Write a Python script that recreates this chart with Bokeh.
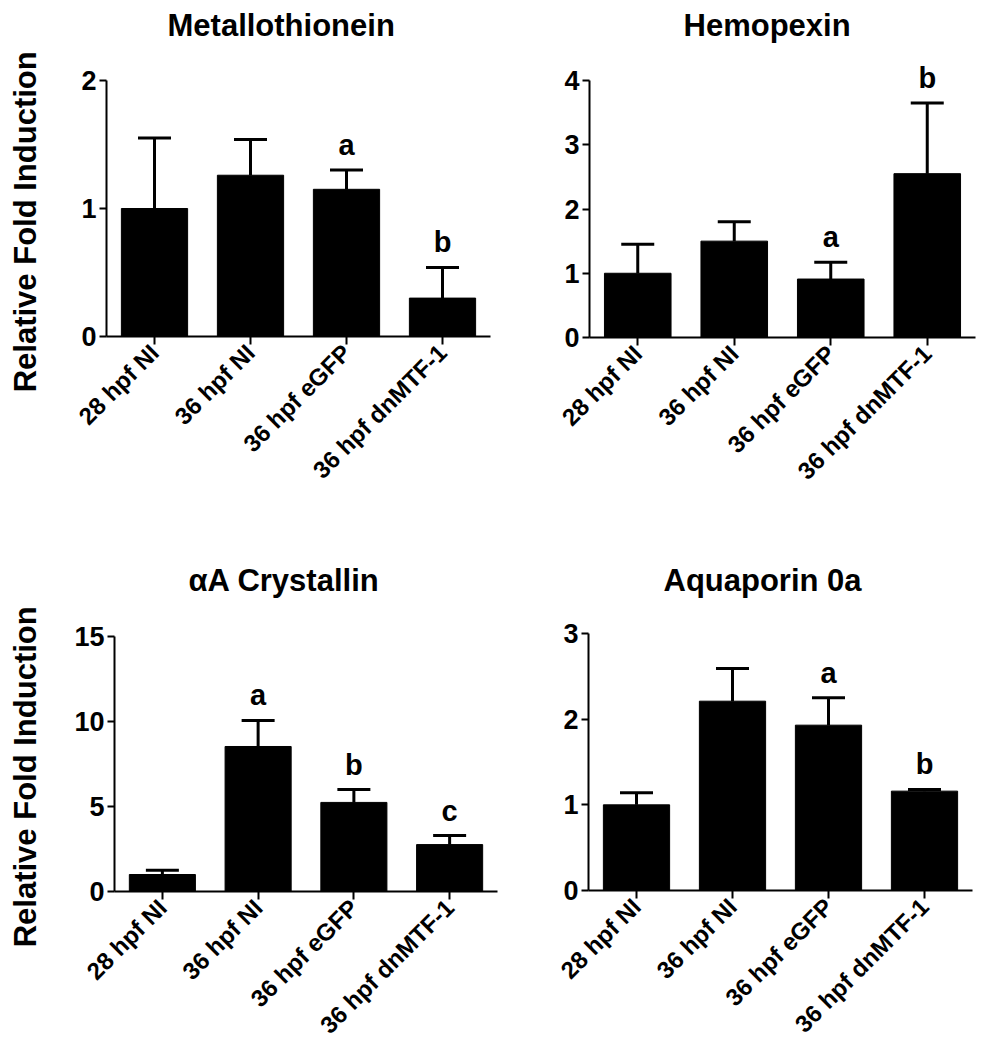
from bokeh.plotting import figure
from bokeh.models import Range1d, FactorRange, FixedTicker, Whisker, TeeHead, LabelSet, ColumnDataSource
from bokeh.core.properties import value
from bokeh.layouts import column, row
from bokeh.embed import file_html
from bokeh.resources import INLINE
import math

categories = ["28 hpf NI", "36 hpf NI", "36 hpf eGFP", "36 hpf dnMTF-1"]

mt_title = "Metallothionein"
mt_mean = [1.0, 1.26, 1.15, 0.30]
mt_err = [0.55, 0.28, 0.15, 0.24]
mt_letters = ["", "", "a", "b"]
mt_ticks = [0, 1, 2]

hpx_title = "Hemopexin"
hpx_mean = [1.0, 1.50, 0.91, 2.55]
hpx_err = [0.45, 0.30, 0.26, 1.10]
hpx_letters = ["", "", "a", "b"]
hpx_ticks = [0, 1, 2, 3, 4]

cry_title = "\u03b1A Crystallin"
cry_mean = [1.0, 8.53, 5.24, 2.76]
cry_err = [0.25, 1.53, 0.76, 0.53]
cry_letters = ["", "a", "b", "c"]
cry_ticks = [0, 5, 10, 15]

aqp_title = "Aquaporin 0a"
aqp_mean = [1.0, 2.21, 1.93, 1.16]
aqp_err = [0.14, 0.38, 0.32, 0.02]
aqp_letters = ["", "", "a", "b"]
aqp_ticks = [0, 1, 2, 3]

FONT = "Liberation Sans"
YLABEL = "Relative  Fold Induction"
LAB_W = 52


def make_panel(title, mean, err, letters, ticks, geom):
    # geom: left border, frame width, right border, figure top, figure height,
    #       frame top, pixel of zero (frame bottom), pixel of axis top, title offset
    ml, fw, mr, fig_top, fig_h, f_top, zero_px, top_px, toff = geom
    ymax = ticks[-1]
    per_px = ymax / (zero_px - top_px)
    y_end = (zero_px - f_top) * per_px
    mt = f_top - fig_top
    fh = zero_px - f_top
    mb = fig_h - mt - fh
    p = figure(x_range=FactorRange(factors=categories, range_padding=0),
               y_range=Range1d(0, y_end),
               frame_width=fw, frame_height=fh,
               min_border_left=ml, min_border_top=mt,
               min_border_right=mr, min_border_bottom=mb,
               output_backend="svg", toolbar_location=None)
    p.title.text = title
    p.title.align = "left"
    p.title.offset = toff
    p.title.text_font = FONT
    p.title.text_font_size = "31px"
    p.title.text_font_style = "bold"
    p.title.text_color = "black"
    p.title.standoff = 0
    p.outline_line_color = None
    p.xgrid.grid_line_color = None
    p.ygrid.grid_line_color = None
    p.background_fill_color = "white"

    top = [m + e for m, e in zip(mean, err)]
    src = ColumnDataSource(dict(x=categories, mean=mean, top=top, letter=letters))
    p.vbar(x="x", top="mean", width=0.69, source=src, fill_color="black", line_color="black")
    p.add_layout(Whisker(base="x", lower="mean", upper="top", source=src,
                         line_width=3, line_color="black",
                         upper_head=TeeHead(size=33, line_width=3, line_color="black"),
                         lower_head=None))
    p.add_layout(LabelSet(x="x", y="top", text="letter", source=src,
                          text_align="center", text_baseline="bottom", y_offset=9,
                          text_font=value(FONT), text_font_size=value("29px"),
                          text_font_style="bold", text_color="black"))

    for ax in (p.xaxis[0], p.yaxis[0]):
        ax.axis_line_width = 2
        ax.axis_line_color = "black"
        ax.major_tick_line_width = 2
        ax.major_tick_line_color = "black"
        ax.major_tick_in = 0
        ax.minor_tick_line_color = None
        ax.major_label_text_font = FONT
        ax.major_label_text_font_style = "bold"
        ax.major_label_text_color = "black"
    p.yaxis.bounds = (0, ymax)
    p.yaxis.ticker = FixedTicker(ticks=ticks)
    p.yaxis.major_tick_out = 7
    p.yaxis.major_label_standoff = 3
    p.yaxis.major_label_text_font_size = "27px"
    p.xaxis.major_tick_out = 8
    p.xaxis.major_label_standoff = 4
    p.xaxis.major_label_text_font_size = "24px"
    p.xaxis.major_label_orientation = math.pi / 4
    return p


def make_ylabel(fig_h, center_from_top, span=350):
    # a narrow figure that only carries the shared y-axis title
    f_top = center_from_top - span // 2
    q = figure(x_range=Range1d(0, 1), y_range=Range1d(0, 1),
               frame_width=LAB_W - 42, frame_height=span,
               min_border_left=42, min_border_right=0,
               min_border_top=f_top, min_border_bottom=fig_h - f_top - span,
               x_axis_location=None, y_axis_location="left",
               output_backend="svg", toolbar_location=None)
    q.outline_line_color = None
    q.xgrid.grid_line_color = None
    q.ygrid.grid_line_color = None
    ax = q.yaxis[0]
    ax.ticker = FixedTicker(ticks=[])
    ax.axis_line_color = None
    ax.major_tick_line_color = None
    ax.minor_tick_line_color = None
    ax.major_tick_out = 0
    ax.major_label_standoff = 0
    ax.axis_label = YLABEL
    ax.axis_label_standoff = 0
    ax.axis_label_text_font = FONT
    ax.axis_label_text_font_size = "31px"
    ax.axis_label_text_font_style = "bold"
    ax.axis_label_text_color = "black"
    return q


p1 = make_panel(mt_title, mt_mean, mt_err, mt_letters, mt_ticks,
                (106 - LAB_W, 384, 10, 0, 545, 42, 336, 80, 61))
p2 = make_panel(hpx_title, hpx_mean, hpx_err, hpx_letters, hpx_ticks,
                (89, 386, 5, 0, 545, 42, 337, 80, 94))
p3 = make_panel(cry_title, cry_mean, cry_err, cry_letters, cry_ticks,
                (114 - LAB_W, 383, 3, 545, 500, 597, 891, 636, 74))
p4 = make_panel(aqp_title, aqp_mean, aqp_err, aqp_letters, aqp_ticks,
                (88, 384, 8, 545, 500, 597, 890, 633, 75))

q1 = make_ylabel(545, 214)
q2 = make_ylabel(500, 740 - 545)

layout = column(row(q1, p1, p2), row(q2, p3, p4))
open("out.html", "w").write(file_html(layout, INLINE))
